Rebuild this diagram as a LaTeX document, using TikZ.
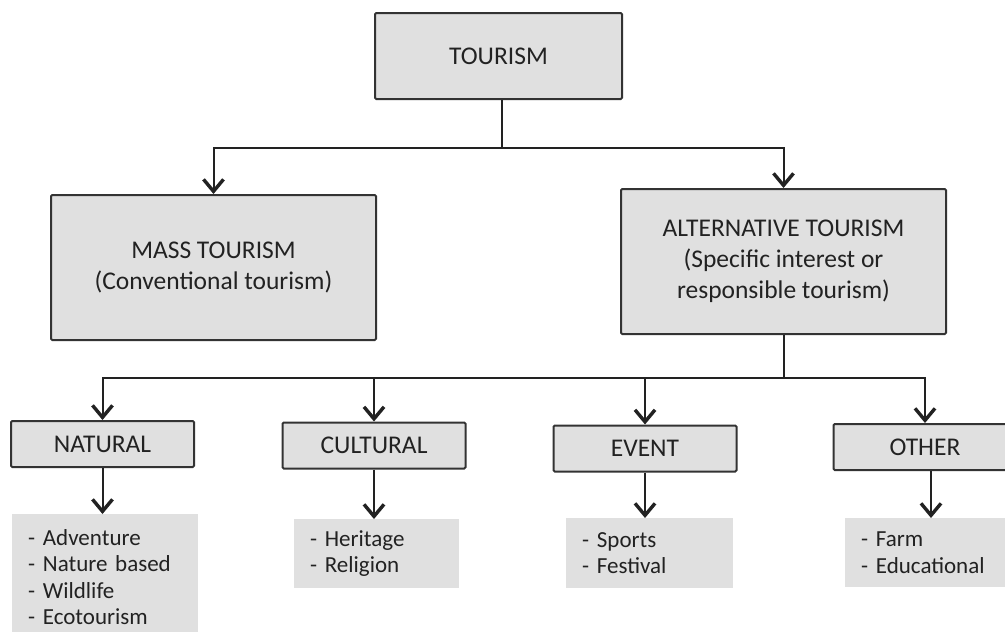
\documentclass[tikz,border=0pt]{standalone}
\usepackage{fontspec}
\setmainfont{Carlito}
\usetikzlibrary{arrows.meta}
\definecolor{boxfill}{HTML}{E0E0E0}
\definecolor{boxline}{HTML}{333333}
\definecolor{ink}{HTML}{222222}
\tikzset{
  head/.style={draw=boxline, fill=boxfill, line width=2pt, rounded corners=1.2pt,
    text=ink, font=\fontsize{25.5}{31}\selectfont, align=center, inner sep=0pt},
  catbox/.style={head, minimum width=183, minimum height=46},
  listbox/.style={fill=boxfill, text=ink, font=\fontsize{23}{26.5}\selectfont,
    align=left, inner xsep=16pt, inner ysep=0pt, anchor=north west},
  link/.style={draw=ink, line width=2pt},
  arr/.style={link, -{Straight Barb[length=12pt,width=20pt,line width=3.4pt]}}
}
\begin{document}
\begin{tikzpicture}[x=1pt,y=-1pt]
\clip (0,0) rectangle (1005,632);
\fill[white] (0,0) rectangle (1005,632);

% top level
\node[head, minimum width=247, minimum height=86] (tour) at (498.5,56) {TOURISM};
\node[head, minimum width=325, minimum height=145] (mass) at (213.5,267.5)
  {MASS TOURISM\\(Conventional tourism)};
\node[head, minimum width=325, minimum height=145] (alt) at (783.5,261.5)
  {ALTERNATIVE TOURISM\\(Specific interest or\\responsible tourism)};

% categories of alternative tourism
\node[catbox] (nat) at (102.5,444) {NATURAL};
\node[catbox] (cul) at (374,445.5) {CULTURAL};
\node[catbox] (evt) at (645,448.5) {EVENT};
\node[catbox] (oth) at (925,447) {OTHER};

% examples
\node[listbox, text width=154, minimum height=126] (natl) at (12,514)
  {- Adventure\\- Nature based\\- Wildlife\\- Ecotourism};
\node[listbox, text width=133, minimum height=69] (cull) at (294,519)
  {- Heritage\\- Religion};
\node[listbox, text width=135, minimum height=70] (evtl) at (566,518)
  {- Sports\\- Festival};
\node[listbox, text width=140, minimum height=69] (othl) at (845,518)
  {- Farm\\- Educational};

% tourism -> mass / alternative
\draw[link] ([xshift=3.5pt]tour.south) -- ++(0,48) coordinate (j1);
\draw[arr] (j1) -| (mass.north);
\draw[arr] (j1) -| (alt.north);

% alternative -> categories
\draw[link] (alt.south) -- ++(0,43) coordinate (j2);
\draw[arr] (j2) -| (nat.north);
\draw[arr] (j2) -| (cul.north);
\draw[arr] (j2) -| (evt.north);
\draw[arr] (j2) -| (oth.north);

% categories -> examples
\draw[arr] (nat.south) -- (nat.south |- natl.north);
\draw[arr] (cul.south) -- (cul.south |- cull.north);
\draw[arr] (evt.south) -- (evt.south |- evtl.north);
\draw[arr] ([xshift=6pt]oth.south) -- ([xshift=6pt]oth.south |- othl.north);
\end{tikzpicture}
\end{document}
